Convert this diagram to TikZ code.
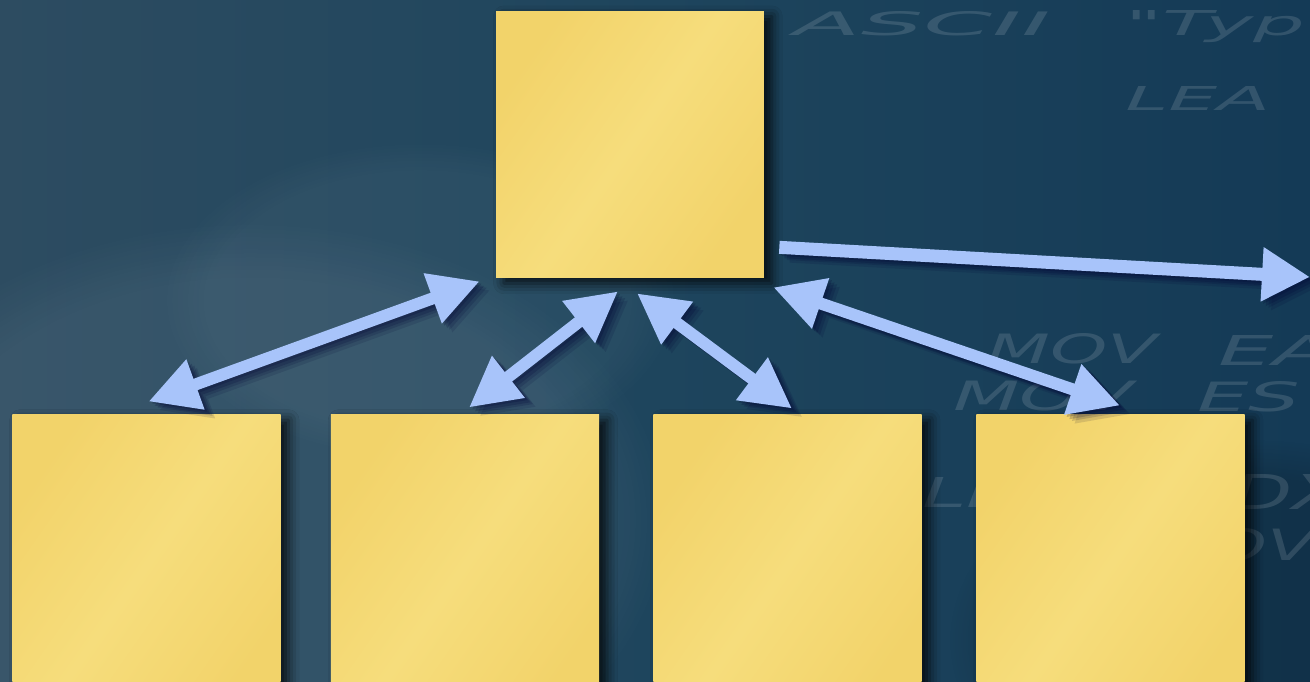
\documentclass[tikz,border=0pt]{standalone}
\usepackage{fontspec}
\newfontfamily\bgfont{DejaVu Sans}
\usetikzlibrary{arrows.meta,calc,shadows.blur,fadings}
\definecolor{bgL}{RGB}{45,76,97}
\definecolor{bgM}{RGB}{30,69,93}
\definecolor{bgR}{RGB}{20,58,86}
\definecolor{cardA}{RGB}{242,211,106}
\definecolor{cardB}{RGB}{246,221,124}
\definecolor{arrowc}{RGB}{168,196,250}
\tikzset{
  card/.style={rectangle, inner sep=0pt, draw=none,
    left color=cardA, right color=cardA, middle color=cardB, shading angle=55,
    blur shadow={shadow xshift=4.5pt, shadow yshift=-3pt, shadow blur radius=6pt, shadow opacity=80}},
  topcard/.style={card, minimum width=5.36cm, minimum height=5.34cm},
  lowcard/.style={card, anchor=north, minimum width=5.37cm, minimum height=6cm},
  arrcol/.style={draw=arrowc},
  dbl/.style={arrcol, line width=0.24cm, {Triangle[length=1cm,width=1cm]}-{Triangle[length=1cm,width=1cm]}},
  sgl/.style={arrcol, line width=0.26cm, -{Triangle[length=0.96cm,width=1.02cm]}},
  bgtext/.style={inner sep=0pt, anchor=north west, text=white, text opacity=0.13, font=\bgfont\itshape},
  glow/.style={white, path fading=circle with fuzzy edge 20 percent},
}
\newcommand\allconnectors{%
  \draw[dbl] ($(b1.north)+(2,-13)$) -- ($(T.south west)+(-16,3)$);
  \draw[dbl] ($(b2.north)+(4,-7)$) -- ($(T.south)+(-12,13)$);
  \draw[dbl] ($(T.south)+(7,15)$) -- ($(b3.north)+(4.5,-6)$);
  \draw[dbl] ($(T.south east)+(9,9)$) -- ($(b4.north)+(9.5,-9)$);
  \draw[sgl] ($(T.south east)+(15,-31)$) -- (out);
}
\newcommand\connshadow[2]{%
  \begin{scope}[transform canvas={shift={(#1)}}]
    \begin{scope}[transparency group, opacity=#2]
      \tikzset{arrcol/.style={draw=black!80!blue}}
      \allconnectors
    \end{scope}
  \end{scope}}
\begin{document}
\begin{tikzpicture}[x=0.02cm, y=-0.02cm]
\useasboundingbox (0,0) rectangle (1310,681);
\clip (0,0) rectangle (1310,681);
% background
\shade[left color=bgL, right color=bgR, middle color=bgM] (0,0) rectangle (1310,681);
\fill[glow, opacity=0.06] (250,520) ellipse [x radius=420, y radius=300];
\fill[glow, opacity=0.04] (420,300) ellipse [x radius=260, y radius=160];
\fill[black, path fading=circle with fuzzy edge 20 percent, opacity=0.15] (1250,640) ellipse [x radius=300, y radius=200];
% faint background code text
\node[bgtext] at (793,11) {\resizebox{5.14cm}{0.48cm}{ASCII}};
\node[bgtext] at (1125,10) {\resizebox{3.6cm}{0.5cm}{"Typ}};
\node[bgtext] at (1125,86) {\resizebox{2.9cm}{0.48cm}{LEA}};
\node[bgtext] at (987,333) {\resizebox{3.4cm}{0.6cm}{MOV}};
\node[bgtext] at (1218,335) {\resizebox{2.3cm}{0.6cm}{EA}};
\node[bgtext] at (953,380) {\resizebox{3.6cm}{0.6cm}{MOV}};
\node[bgtext] at (1197,381) {\resizebox{2.06cm}{0.6cm}{ES}};
\node[bgtext] at (922,477) {\resizebox{3cm}{0.6cm}{LEA}};
\node[bgtext] at (1185,474) {\resizebox{3.2cm}{0.7cm}{EDX}};
\node[bgtext] at (1150,528) {\resizebox{3.3cm}{0.64cm}{MOV}};
% cards
\node[topcard] (T) at (630,144.5) {};
\node[lowcard] (b1) at (146.5,414.5) {};
\node[lowcard] (b2) at (465,414.5) {};
\node[lowcard] (b3) at (787.5,414.5) {};
\node[lowcard] (b4) at (1110.5,414.5) {};
\coordinate (out) at (1310,277);
% connector shadows (soft)
\connshadow{6pt,-5pt}{0.12}
\connshadow{4.5pt,-3.5pt}{0.15}
\connshadow{3pt,-2.5pt}{0.18}
\connshadow{1.5pt,-1.2pt}{0.2}
% connectors
\allconnectors
\end{tikzpicture}
\end{document}
